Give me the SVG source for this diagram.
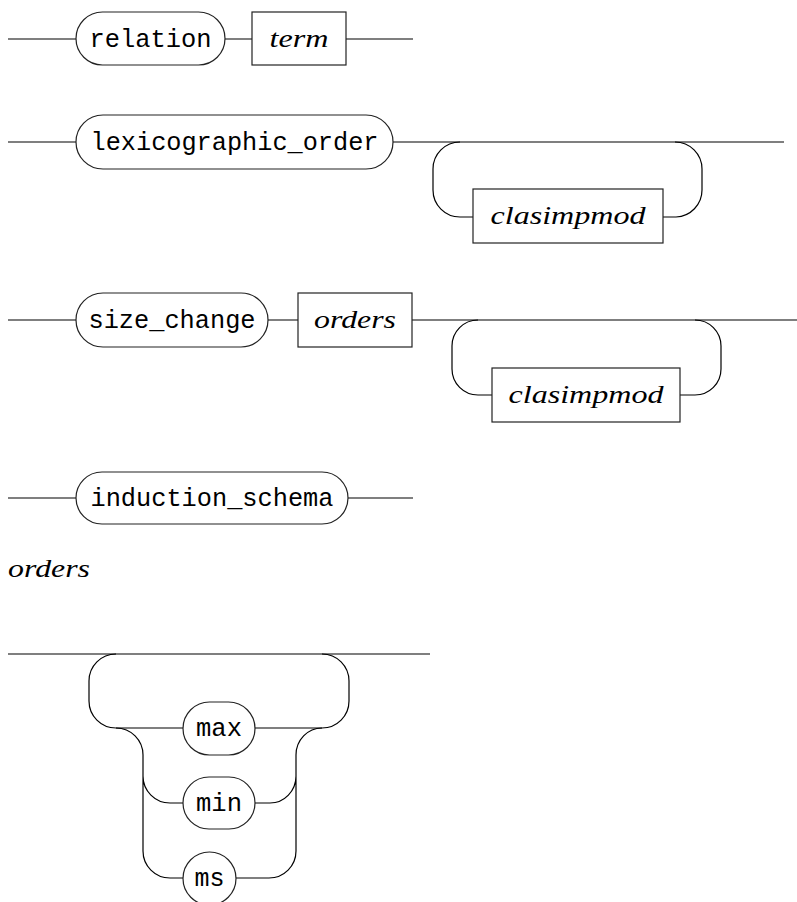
<svg xmlns="http://www.w3.org/2000/svg" width="797" height="902" viewBox="0 0 797 902">
<style>
.t{fill:#fff;stroke:#222;stroke-width:1.2}
.n{fill:#fff;stroke:#222;stroke-width:1.2}
.c{fill:none;stroke:#000;stroke-width:1.2}
.m{font-family:"Liberation Mono","DejaVu Sans Mono",monospace;font-size:25px;fill:#000;text-anchor:middle}
.i{font-family:"Liberation Serif","DejaVu Serif",serif;font-style:italic;font-size:25px;fill:#000;text-anchor:middle}
</style>
<g id="connectors">
<path class="c" d="M8,39 H76 M225,39 H252 M346,39 H413"/>
<path class="c" d="M8,142 H76 M393,142 H784"/>
<path class="c" d="M460,142 A27,27 0 0 0 433,169 V190 A27,27 0 0 0 460,217 H473 M663,217 H676 A27,27 0 0 0 702,190 V169 A27,27 0 0 0 675,142"/>
<path class="c" d="M8,320 H76 M268,320 H298 M412,320 H797"/>
<path class="c" d="M478,320 A26,26 0 0 0 452,346 V369 A26,26 0 0 0 478,395 H492 M680,395 H695 A26,26 0 0 0 721,369 V346 A26,26 0 0 0 695,320"/>
<path class="c" d="M8,498 H76 M348,498 H413"/>
<path class="c" d="M8,654 H430"/>
<path class="c" d="M116,654 A27,27 0 0 0 89,681 V701 A27,27 0 0 0 116,728 H183 M255,728 H322 A27,27 0 0 0 349,701 V681 A27,27 0 0 0 322,654"/>
<path class="c" d="M116,728 A27,27 0 0 1 143,755 V851 A27,27 0 0 0 170,878 H183 M143,776 A27,27 0 0 0 170,803 H183"/>
<path class="c" d="M322,728 A26,27 0 0 0 296,755 V851 A27,27 0 0 1 269,878 H236 M255,803 H270 A26,27 0 0 0 296,776"/>
</g>
<g id="relation"><rect class="t" x="76" y="12" width="149" height="53" rx="26.5"/><text class="m" x="150.5" y="47" textLength="122" lengthAdjust="spacingAndGlyphs">relation</text></g>
<g id="term"><rect class="n" x="252" y="12" width="94" height="53"/><text class="i" x="299" y="47" textLength="59" lengthAdjust="spacingAndGlyphs">term</text></g>
<g id="lexicographic_order"><rect class="t" x="76" y="115" width="317" height="54" rx="27"/><text class="m" x="234.5" y="150" textLength="288" lengthAdjust="spacingAndGlyphs">lexicographic_order</text></g>
<g id="clasimpmod1"><rect class="n" x="473" y="189" width="190" height="54"/><text class="i" x="568" y="224" textLength="155" lengthAdjust="spacingAndGlyphs">clasimpmod</text></g>
<g id="size_change"><rect class="t" x="76" y="293" width="192" height="54" rx="27"/><text class="m" x="172" y="328" textLength="167" lengthAdjust="spacingAndGlyphs">size_change</text></g>
<g id="orders_ref"><rect class="n" x="298" y="293" width="114" height="54"/><text class="i" x="355" y="328" textLength="82" lengthAdjust="spacingAndGlyphs">orders</text></g>
<g id="clasimpmod2"><rect class="n" x="492" y="368" width="188" height="54"/><text class="i" x="586" y="403" textLength="155" lengthAdjust="spacingAndGlyphs">clasimpmod</text></g>
<g id="induction_schema"><rect class="t" x="76" y="472" width="272" height="52" rx="26"/><text class="m" x="212" y="506" textLength="243" lengthAdjust="spacingAndGlyphs">induction_schema</text></g>
<g id="orders_label"><text class="i" x="8" y="577" style="text-anchor:start" textLength="82" lengthAdjust="spacingAndGlyphs">orders</text></g>
<g id="max"><rect class="t" x="183" y="702" width="72" height="53" rx="26.5"/><text class="m" x="219" y="736" textLength="46" lengthAdjust="spacingAndGlyphs">max</text></g>
<g id="min"><rect class="t" x="183" y="777" width="72" height="52" rx="26"/><text class="m" x="219" y="811" textLength="46" lengthAdjust="spacingAndGlyphs">min</text></g>
<g id="ms"><rect class="t" x="183" y="852" width="53" height="53" rx="26.5"/><text class="m" x="209.5" y="886" textLength="30" lengthAdjust="spacingAndGlyphs">ms</text></g>
</svg>
